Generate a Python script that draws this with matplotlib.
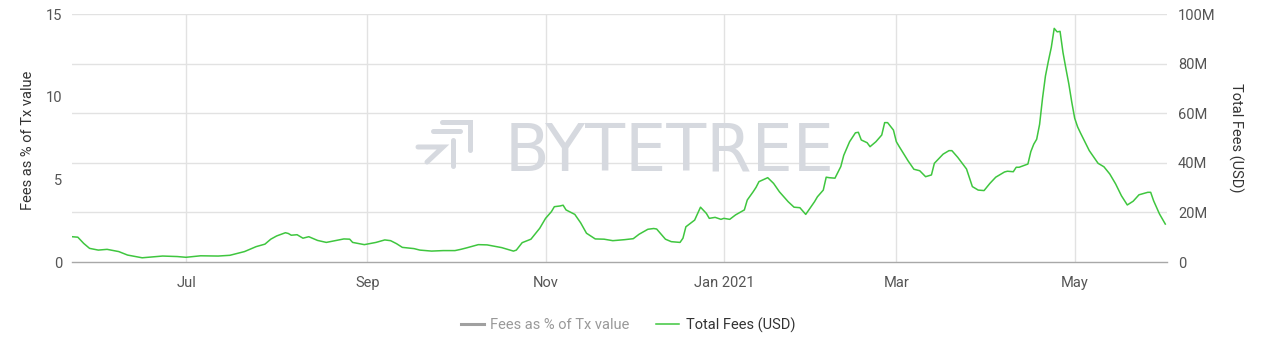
import matplotlib
matplotlib.use('Agg')
import matplotlib.pyplot as plt
from matplotlib.lines import Line2D
import pandas as pd

# ---------------- data ----------------
dates = [
    '2020-05-23', '2020-05-25', '2020-05-27', '2020-05-29', '2020-06-01', '2020-06-04',
    '2020-06-08', '2020-06-11', '2020-06-16', '2020-06-23', '2020-06-28', '2020-07-01',
    '2020-07-06', '2020-07-12', '2020-07-16', '2020-07-21', '2020-07-25', '2020-07-28',
    '2020-07-30', '2020-08-01', '2020-08-04', '2020-08-05', '2020-08-06', '2020-08-08',
    '2020-08-10', '2020-08-12', '2020-08-15', '2020-08-18', '2020-08-21', '2020-08-24',
    '2020-08-26', '2020-08-27', '2020-08-31', '2020-09-03', '2020-09-04', '2020-09-07',
    '2020-09-09', '2020-09-11', '2020-09-13', '2020-09-17', '2020-09-19', '2020-09-23',
    '2020-09-27', '2020-10-01', '2020-10-03', '2020-10-05', '2020-10-09', '2020-10-12',
    '2020-10-17', '2020-10-21', '2020-10-22', '2020-10-24', '2020-10-27', '2020-10-30',
    '2020-11-01', '2020-11-03', '2020-11-04', '2020-11-06', '2020-11-07', '2020-11-08',
    '2020-11-11', '2020-11-13', '2020-11-15', '2020-11-18', '2020-11-21', '2020-11-24',
    '2020-11-28', '2020-12-01', '2020-12-03', '2020-12-06', '2020-12-08', '2020-12-09',
    '2020-12-12', '2020-12-14', '2020-12-17', '2020-12-18', '2020-12-19', '2020-12-22',
    '2020-12-24', '2020-12-26', '2020-12-27', '2020-12-29', '2020-12-31', '2021-01-01',
    '2021-01-03', '2021-01-05', '2021-01-08', '2021-01-09', '2021-01-11', '2021-01-12',
    '2021-01-13', '2021-01-16', '2021-01-18', '2021-01-20', '2021-01-23', '2021-01-25',
    '2021-01-27', '2021-01-29', '2021-02-01', '2021-02-02', '2021-02-04', '2021-02-05',
    '2021-02-06', '2021-02-08', '2021-02-10', '2021-02-11', '2021-02-13', '2021-02-15',
    '2021-02-16', '2021-02-17', '2021-02-19', '2021-02-20', '2021-02-22', '2021-02-24',
    '2021-02-25', '2021-02-26', '2021-02-28', '2021-03-01', '2021-03-02', '2021-03-05',
    '2021-03-07', '2021-03-09', '2021-03-11', '2021-03-13', '2021-03-14', '2021-03-17',
    '2021-03-19', '2021-03-20', '2021-03-22', '2021-03-25', '2021-03-27', '2021-03-29',
    '2021-03-31', '2021-04-02', '2021-04-04', '2021-04-07', '2021-04-08', '2021-04-10',
    '2021-04-11', '2021-04-12', '2021-04-15', '2021-04-16', '2021-04-17', '2021-04-18',
    '2021-04-19', '2021-04-20', '2021-04-21', '2021-04-22', '2021-04-23', '2021-04-24',
    '2021-04-25', '2021-04-26', '2021-04-27', '2021-04-28', '2021-04-29', '2021-04-30',
    '2021-05-01', '2021-05-02', '2021-05-03', '2021-05-06', '2021-05-09', '2021-05-11',
    '2021-05-13', '2021-05-15', '2021-05-17', '2021-05-19', '2021-05-21', '2021-05-23',
    '2021-05-26', '2021-05-27', '2021-05-28', '2021-05-30', '2021-06-01',
]
total_fees_musd = [
    10.2, 10.0, 7.5, 5.5, 4.8, 5.1,
    4.2, 2.8, 1.7, 2.4, 2.2, 1.9,
    2.5, 2.4, 2.7, 4.2, 6.2, 7.2,
    9.2, 10.5, 11.8, 11.5, 10.8, 11.0,
    9.6, 10.2, 8.7, 7.9, 8.6, 9.3,
    9.2, 7.9, 7.0, 7.7, 7.9, 8.9,
    8.6, 7.4, 5.9, 5.4, 4.8, 4.4,
    4.6, 4.6, 5.1, 5.7, 7.0, 6.9,
    5.8, 4.4, 4.8, 7.8, 9.2, 13.6,
    17.6, 20.3, 22.3, 22.6, 22.9, 21.0,
    19.2, 15.8, 11.6, 9.3, 9.2, 8.6,
    9.0, 9.4, 11.2, 13.2, 13.5, 13.3,
    9.2, 8.2, 7.9, 9.6, 14.2, 16.9,
    22.1, 19.6, 17.6, 18.0, 17.2, 17.6,
    17.2, 19.0, 21.0, 25.0, 28.3, 30.1,
    32.4, 34.0, 31.7, 28.3, 24.3, 22.1,
    21.9, 19.2, 24.3, 26.3, 29.0, 34.2,
    34.0, 33.8, 38.5, 43.0, 48.5, 52.1,
    52.3, 49.2, 48.1, 46.5, 48.5, 51.2,
    56.2, 56.2, 53.2, 48.5, 46.5, 40.8,
    37.4, 36.8, 34.4, 35.1, 39.8, 43.5,
    44.9, 44.9, 42.2, 37.5, 30.4, 29.0,
    28.8, 31.7, 34.2, 36.3, 36.6, 36.4,
    38.2, 38.2, 39.5, 44.5, 47.5, 49.5,
    55.5, 66.0, 75.0, 81.0, 86.5, 94.2,
    92.8, 93.0, 84.5, 78.0, 71.8, 64.5,
    58.0, 54.5, 52.0, 44.9, 39.8, 38.4,
    35.5, 31.5, 26.7, 23.0, 24.5, 27.1,
    28.1, 28.1, 24.7, 19.4, 15.3,
]

left_ticks = [0, 5, 10, 15]
right_ticks_musd = [0, 20, 40, 60, 80, 100]
right_tick_labels = ['0', '20M', '40M', '60M', '80M', '100M']
month_ticks = ['2020-07-01', '2020-09-01', '2020-11-01', '2021-01-01', '2021-03-01', '2021-05-01']
month_labels = ['Jul', 'Sep', 'Nov', 'Jan 2021', 'Mar', 'May']
x_start, x_end = '2020-05-23 00:00', '2021-06-01 14:00'
left_axis_title = 'Fees as % of Tx value'
right_axis_title = 'Total Fees (USD)'
legend_labels = ['Fees as % of Tx value', 'Total Fees (USD)']
watermark_text = 'BYTETREE'

# ---------------- style ----------------
plt.rcParams['font.family'] = ['Roboto', 'DejaVu Sans']
GREEN = '#3fc63f'
GRID = '#e2e2e2'
TICK_C = '#555555'
TITLE_C = '#333333'
WM_C = '#d6d9df'

W, H = 1264, 360
fig = plt.figure(figsize=(W / 100, H / 100), dpi=100)
L, R, T, B = 72, 1167, 14, 262
ax = fig.add_axes([L / W, 1 - B / H, (R - L) / W, (B - T) / H])
ax2 = ax.twinx()

x = pd.to_datetime(dates)
y = [v * 1e6 for v in total_fees_musd]

# left axis (hidden series, only its scale)
ax.set_ylim(0, 15)
ax.set_yticks(left_ticks)
ax.set_yticklabels([str(t) for t in left_ticks])
ax.set_xlim(pd.Timestamp(x_start), pd.Timestamp(x_end))
ax.set_xticks(pd.to_datetime(month_ticks))
ax.set_xticklabels(month_labels)
ax.set_axisbelow(True)
ax.grid(axis='x', color=GRID, lw=1)
for s in ['top', 'left', 'right']:
    ax.spines[s].set_visible(False)
ax.spines['bottom'].set_color('#a8a8a8')
ax.spines['bottom'].set_linewidth(1.0)
ax.tick_params(axis='y', length=0, pad=7, labelsize=10.5, labelcolor=TICK_C)
ax.tick_params(axis='x', length=0, pad=10, labelsize=10.5, labelcolor=TICK_C)

# right axis with the line
ax2.set_ylim(0, 100e6)
ax2.set_yticks([v * 1e6 for v in right_ticks_musd])
ax2.set_yticklabels(right_tick_labels)
for s in ax2.spines.values():
    s.set_visible(False)
ax2.tick_params(axis='y', length=0, pad=8, labelsize=10.5, labelcolor=TICK_C)
ax2.plot(x, y, color=GREEN, lw=1.1, zorder=3)
ax2.set_xlim(pd.Timestamp(x_start), pd.Timestamp(x_end))

# horizontal grid (right-axis steps), drawn on the bottom axes
for v in right_ticks_musd[1:]:
    ax.axhline(v / 100 * 15, color=GRID, lw=1, zorder=0.4)

# axis titles
fig.text(28 / W, 1 - 140 / H, left_axis_title, rotation=90, ha='center', va='center',
         fontsize=10.5, color=TITLE_C)
fig.text(1236 / W, 1 - 138 / H, right_axis_title, rotation=270, ha='center', va='center',
         fontsize=10.5, color=TITLE_C)

# watermark (drawn in the bottom axes so the line stays above it)
def fx(px):
    return px / W

def fy(py):
    return 1 - py / H

ax.text(fx(670), fy(170.7), watermark_text, transform=fig.transFigure, ha='center',
        va='baseline', fontsize=47, color=WM_C, family='DejaVu Sans', zorder=0.6,
        clip_on=False)

logo_segments = [
    [(442, 122), (470, 122), (470, 150)],
    [(433, 131), (460, 131)],
    [(453, 140), (453, 166)],
    [(418, 147), (443, 147), (427, 162)],
]
for seg in logo_segments:
    xs = [fx(p[0]) for p in seg]
    ys = [fy(p[1]) for p in seg]
    ax.add_line(Line2D(xs, ys, transform=fig.transFigure, color=WM_C, lw=3.6,
                       solid_capstyle='round', solid_joinstyle='miter', zorder=0.6,
                       clip_on=False))

# legend
handles = [Line2D([], [], color='#a0a0a0', lw=2.2), Line2D([], [], color=GREEN, lw=1.1)]
leg = fig.legend(handles, legend_labels, loc='center', bbox_to_anchor=(628 / W, 1 - 325 / H),
                 ncol=2, frameon=False, fontsize=10.5, handlelength=1.6, handletextpad=0.45,
                 columnspacing=1.8)
leg.get_texts()[0].set_color('#999999')
leg.get_texts()[1].set_color(TITLE_C)

fig.savefig('out.png', dpi=100)
